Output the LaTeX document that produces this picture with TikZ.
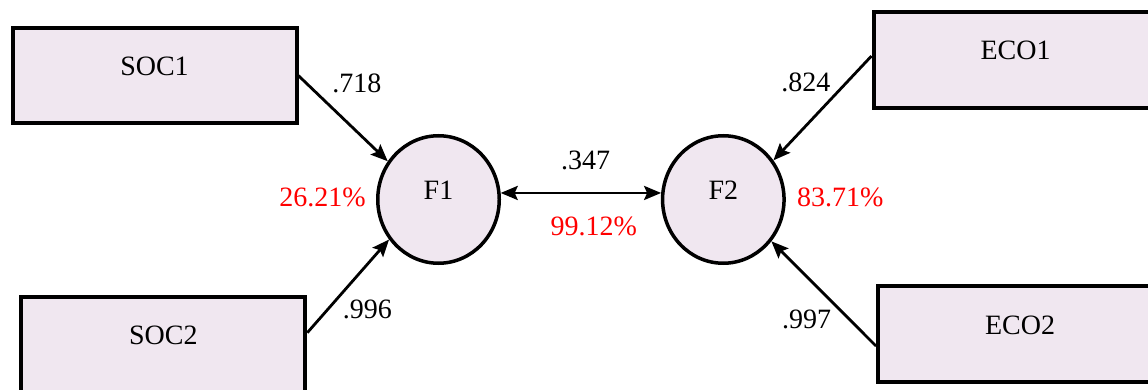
\documentclass[tikz,border=0pt]{standalone}
\usepackage{fontspec}
\setmainfont{Liberation Serif}
\usetikzlibrary{arrows.meta}
\usetikzlibrary{positioning}
\usetikzlibrary{shapes.geometric}
\definecolor{boxfill}{RGB}{240,231,240}

\tikzset{hd/.tip={Stealth[length=17pt,width=14pt,inset=3pt]}}

\begin{document}
\begin{tikzpicture}[x=1pt,y=-1pt,font=\fontsize{28}{33}\selectfont,
    box/.style={draw,line width=4pt,fill=boxfill,minimum width=284pt,minimum height=95.5pt,text height=10pt,text depth=10pt,inner sep=0pt},
    factor/.style={draw,ellipse,line width=3.5pt,fill=boxfill,minimum width=121.5pt,minimum height=127.5pt,text height=10pt,text depth=10pt,inner sep=0pt},
    load/.style={-hd,line width=2.8pt},
    lbl/.style={inner sep=1pt},
    pct/.style={text=red,inner sep=1pt}]
      \useasboundingbox (0,0) rectangle (1148,390);
      \clip (0,0) rectangle (1148,390);
      \node[box] at (154.5,75.7) (soc1){SOC1};
      \node[box] at (163.3,344.7) (soc2){SOC2};
      \node[box] at (1015.5,60) (eco1){ECO1};
      \node[box] at (1020,334) (eco2){ECO2};
      \node[factor] at (438.5,199.5) (f1){F1};
      \node[factor] at (723.3,199.5) (f2){F2};
      \node[pct,left=9pt of f1,yshift=2.5pt] (r1){26.21\%};
      \node[pct,right=10pt of f2,yshift=2.5pt] (r2){83.71\%};
      \draw[load] (soc1.east) -- node[lbl,pos=.29,above right=8pt] {.718} (f1.143);
      \draw[load] ([yshift=12pt]soc2.east) -- node[lbl,pos=.39,below right=2pt] {.996} (f1.219);
      \draw[load] ([yshift=4pt]eco1.west) -- node[lbl,pos=.38,above left=2pt] {.824} (f2.38);
      \draw[load] ([yshift=-12pt]eco2.west) -- node[lbl,pos=.385,below left=3pt] {.997} (f2.319);
      \draw[hd-hd,line width=2.8pt] (f1.6) -- node[lbl,pos=.53,above=21pt] {.347} node[pct,pos=.58,below=22pt] {99.12\%} (f2.174);
    \end{tikzpicture}
\end{document}
